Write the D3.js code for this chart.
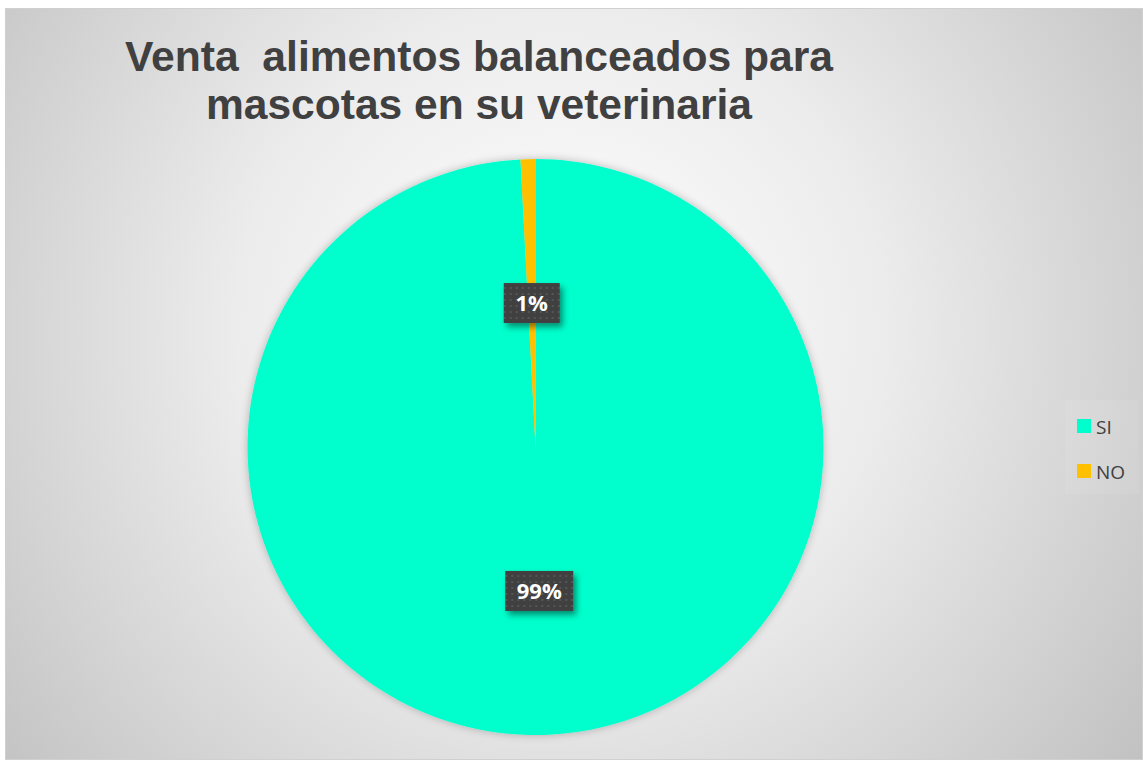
<!DOCTYPE html>
<html><head><meta charset="utf-8">
<script src="https://cdn.jsdelivr.net/npm/d3@7"></script>
<style>html,body{margin:0;padding:0;background:#fff;}svg{display:block;}</style>
</head><body>
<script>
const categories = ["SI", "NO"];
const values = [99.17, 0.83];
const labels = ["99%", "1%"];
const colors = ["#00FFCC", "#FFC000"];
const titleLines = ["Venta  alimentos balanceados para", "mascotas en su veterinaria"];

const W = 1143, H = 760;
const svg = d3.select("body").append("svg").attr("width", W).attr("height", H);
const defs = svg.append("defs");

const bg = defs.append("radialGradient").attr("id", "bg")
  .attr("gradientUnits", "userSpaceOnUse")
  .attr("cx", 560).attr("cy", 330).attr("r", 720);
bg.append("stop").attr("offset", "0").attr("stop-color", "#ffffff");
bg.append("stop").attr("offset", "0.45").attr("stop-color", "#ececec");
bg.append("stop").attr("offset", "1").attr("stop-color", "#c2c2c2");

const sh = defs.append("filter").attr("id", "sh").attr("x", "-20%").attr("y", "-20%").attr("width", "150%").attr("height", "150%");
sh.append("feGaussianBlur").attr("in", "SourceAlpha").attr("stdDeviation", 3);
sh.append("feOffset").attr("dx", 3).attr("dy", 4).attr("result", "b");
sh.append("feComponentTransfer").append("feFuncA").attr("type", "linear").attr("slope", 0.45);
const m = sh.append("feMerge"); m.append("feMergeNode"); m.append("feMergeNode").attr("in", "SourceGraphic");

const psh = defs.append("filter").attr("id", "psh").attr("x", "-10%").attr("y", "-10%").attr("width", "120%").attr("height", "120%");
psh.append("feGaussianBlur").attr("in", "SourceAlpha").attr("stdDeviation", 4);
psh.append("feOffset").attr("dx", 0).attr("dy", 0);
psh.append("feComponentTransfer").append("feFuncA").attr("type", "linear").attr("slope", 0.25);
const m2 = psh.append("feMerge"); m2.append("feMergeNode"); m2.append("feMergeNode").attr("in", "SourceGraphic");

const pat = defs.append("pattern").attr("id", "dots").attr("patternUnits", "userSpaceOnUse").attr("width", 6).attr("height", 6);
pat.append("rect").attr("width", 6).attr("height", 6).attr("fill", "#404040");
pat.append("rect").attr("x", 2).attr("y", 2).attr("width", 2).attr("height", 2).attr("fill", "#565656");

svg.append("rect").attr("x", 5.5).attr("y", 8.5).attr("width", W - 6).attr("height", H - 9)
  .attr("fill", "url(#bg)").attr("stroke", "#d0d0d0").attr("stroke-width", 1);

const titleWidths = [708, 546];
const title = svg.append("text").attr("text-anchor", "middle")
  .attr("font-family", "Liberation Sans, Arial, sans-serif").attr("font-weight", "bold")
  .attr("font-size", 43).attr("fill", "#404040").style("white-space", "pre");
titleLines.forEach((t, i) => {
  title.append("tspan").attr("x", 479).attr("y", 71 + i * 48)
    .attr("textLength", titleWidths[i]).attr("lengthAdjust", "spacingAndGlyphs").text(t);
});

const cx = 535.5, cy = 447, r = 288;
const pie = d3.pie().sort(null).value(d => d);
const arcs = pie(values);
const arc = d3.arc().innerRadius(0).outerRadius(r);
const g = svg.append("g").attr("transform", `translate(${cx},${cy})`);
const pg = g.append("g").attr("filter", "url(#psh)");
pg.selectAll("path").data(arcs).join("path")
  .attr("d", arc).attr("fill", (d, i) => colors[i]);

const lg = g.selectAll("g.lab").data(arcs).join("g").attr("class", "lab")
  .attr("transform", d => `translate(${arc.centroid(d)})`);
lg.each(function(d, i) {
  const s = d3.select(this);
  const w = labels[i].length * 12 + 32;
  s.append("rect").attr("x", -w / 2).attr("y", -20).attr("width", w).attr("height", 40)
    .attr("fill", "url(#dots)").attr("filter", "url(#sh)");
  s.append("text").attr("text-anchor", "middle").attr("y", 8)
    .attr("font-family", "Open Sans, Noto Sans, sans-serif").attr("font-weight", "bold")
    .attr("font-size", 22).attr("fill", "#ffffff").text(labels[i]);
});

svg.append("rect").attr("x", 1065).attr("y", 400).attr("width", 74).attr("height", 94)
  .attr("fill", "#ffffff").attr("opacity", 0.08);
const leg = svg.selectAll("g.leg").data(categories).join("g").attr("class", "leg")
  .attr("transform", (d, i) => `translate(1077,${419 + i * 45})`);
leg.append("rect").attr("width", 14).attr("height", 14).attr("fill", (d, i) => colors[i]);
leg.append("text").attr("x", 19).attr("y", 15)
  .attr("font-family", "Open Sans, Noto Sans, sans-serif").attr("font-size", 19)
  .attr("fill", "#404040").text(d => d);
</script>
</body></html>
